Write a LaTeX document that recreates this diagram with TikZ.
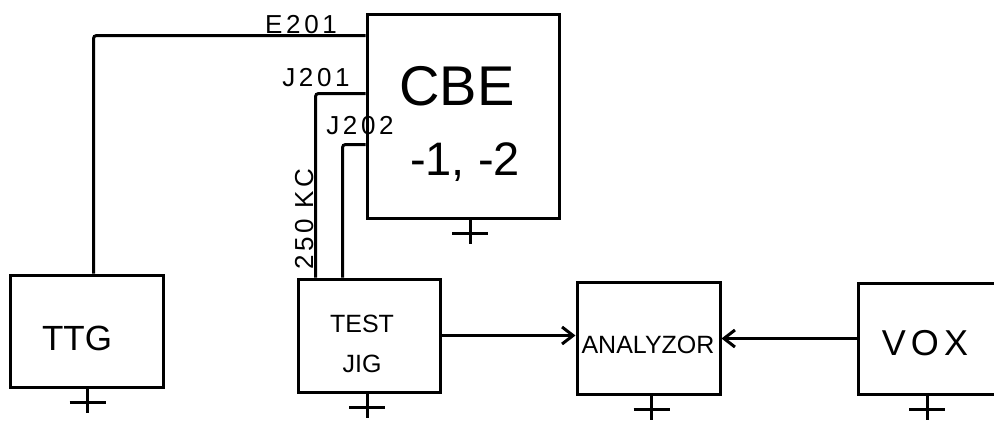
\documentclass[tikz,border=0pt]{standalone}
\usepackage{fontspec}
\setmainfont{Liberation Sans}
\newfontfamily\widefont[LetterSpace=14]{Liberation Sans}
\usetikzlibrary{arrows.meta}

\tikzset{
  unit/.style={draw, line width=3pt, inner sep=0pt},
  wire/.style={line width=3pt, rounded corners=3pt},
  sig/.style={line width=3pt, -{Straight Barb[length=11pt,width=17pt]}},
  gnd/.style={line width=3pt},
  lbl/.style={inner sep=0pt, anchor=base},
  tag/.style={lbl, font=\widefont\fontsize{26}{26}\selectfont},
}

\begin{document}
\begin{tikzpicture}[x=1pt,y=-1pt]
  \clip (0,0) rectangle (994,421);
  % blocks
  \node[unit, minimum width=192pt, minimum height=204pt] (cbe) at (463,116) {};
  \node[unit, minimum width=153pt, minimum height=112pt] (ttg) at (86.5,331) {};
  \node[unit, minimum width=142pt, minimum height=113pt] (jig) at (369,335.5) {};
  \node[unit, minimum width=143pt, minimum height=112pt] (anl) at (648.5,338) {};
  \node[unit, minimum width=144pt, minimum height=111pt] (vox) at (930,338.5) {};
  % block texts
  \node[lbl, font=\fontsize{56}{60}\selectfont] at (457,105) {CBE};
  \node[lbl, font=\fontsize{47}{50}\selectfont] at (465,175) {-1, -2};
  \node[lbl, font=\fontsize{35}{40}\selectfont] at (77,350) {TTG};
  \node[lbl, align=center, font=\fontsize{25}{40}\selectfont] at (362,372) {TEST\\JIG};
  \node[lbl, font=\fontsize{25}{28}\selectfont] at (648,353) {ANALYZOR};
  \node[lbl, font=\widefont\fontsize{36}{40}\selectfont] at (925,355) {VOX};
  % wires to CBE
  \draw[wire] ([xshift=7pt]ttg.north) |- ([yshift=-23pt]cbe.north west);
  \draw[wire] ([yshift=-81pt]cbe.north west) -| ([xshift=19pt]jig.north west);
  \draw[wire] ([yshift=-132pt]cbe.north west) -| ([xshift=46pt]jig.north west);
  \node[tag] at (301,33) {E201};
  \node[tag] at (316,86) {J201};
  \node[tag] at (360,134) {J202};
  \node[tag, rotate=90] at (313,219) {250 KC};
  % signal paths
  \draw[sig] (jig.east) -- (jig.east -| anl.west);
  \draw[sig] (vox.west) -- (vox.west -| anl.east);
  % grounds
  \foreach \b/\dx in {cbe/7,ttg/1,jig/-2,anl/3,vox/-3}
    \draw[gnd] ([xshift=\dx pt]\b.south) -- ++(0,24) ++(-18,-10) -- ++(36,0);
\end{tikzpicture}
\end{document}
